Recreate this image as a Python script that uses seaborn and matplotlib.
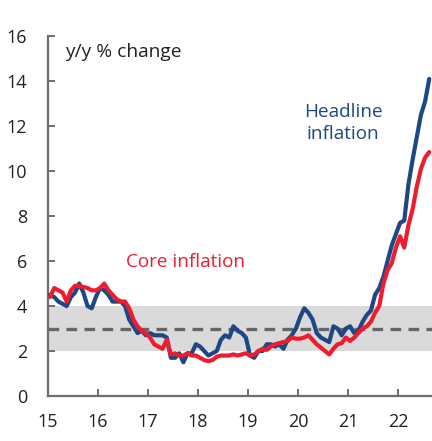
import numpy as np
import pandas as pd
import matplotlib
matplotlib.use("Agg")
import matplotlib.pyplot as plt
import seaborn as sns

# Monthly data, Jan 2015 - Aug 2022 (y/y % change)
years = list(range(2015, 2023))
headline = [
    4.5, 4.4, 4.2, 4.1, 4.0, 4.4, 4.6, 5.0, 4.6, 4.0, 3.9, 4.4,   # 2015
    4.8, 4.7, 4.5, 4.2, 4.2, 4.2, 4.0, 3.4, 3.1, 2.8, 2.9, 2.7,   # 2016
    2.8, 2.7, 2.7, 2.7, 2.6, 1.7, 1.7, 1.9, 1.5, 1.9, 1.9, 2.3,   # 2017
    2.2, 2.0, 1.8, 1.9, 2.0, 2.5, 2.7, 2.6, 3.1, 2.9, 2.8, 2.6,   # 2018
    1.8, 1.7, 2.0, 2.0, 2.3, 2.3, 2.2, 2.3, 2.1, 2.5, 2.7, 3.0,   # 2019
    3.5, 3.9, 3.7, 3.4, 2.8, 2.6, 2.5, 2.4, 3.1, 3.0, 2.7, 3.0,   # 2020
    3.1, 2.8, 2.9, 3.3, 3.6, 3.8, 4.5, 4.8, 5.3, 6.0, 6.7, 7.2,   # 2021
    7.7, 7.8, 9.4, 10.5, 11.5, 12.5, 13.1, 14.1,                  # 2022
]
core = [
    4.4, 4.8, 4.7, 4.6, 4.2, 4.7, 4.9, 4.9, 4.85, 4.8, 4.7, 4.7,  # 2015
    4.8, 5.0, 4.7, 4.5, 4.3, 4.2, 4.2, 3.9, 3.4, 3.1, 2.9, 2.8,   # 2016
    2.6, 2.3, 2.2, 2.1, 2.5, 1.85, 1.9, 1.8, 1.8, 1.9, 1.8, 1.8,  # 2017
    1.7, 1.6, 1.55, 1.6, 1.75, 1.8, 1.8, 1.8, 1.85, 1.8, 1.85, 1.9,  # 2018
    1.8, 1.85, 2.0, 2.1, 2.05, 2.2, 2.3, 2.35, 2.4, 2.45, 2.6, 2.55,  # 2019
    2.55, 2.6, 2.7, 2.5, 2.3, 2.15, 2.0, 1.85, 2.1, 2.3, 2.35, 2.6,   # 2020
    2.45, 2.6, 2.8, 3.0, 3.1, 3.3, 3.7, 4.0, 5.0, 5.6, 5.9, 6.6,      # 2021
    7.1, 6.6, 7.6, 8.3, 9.3, 10.1, 10.6, 10.85,                       # 2022
]
x_ticks = [15, 16, 17, 18, 19, 20, 21, 22]
y_ticks = [0, 2, 4, 6, 8, 10, 12, 14, 16]
band_low, band_high, target = 2, 4, 3

n = len(headline)
t = [15 + (i + 0.5) / 12 for i in range(n)]
df = pd.DataFrame({"t": t + t,
                   "value": headline + core,
                   "series": ["Headline inflation"] * n + ["Core inflation"] * n})

sns.set_theme(style="white")
plt.rcParams["font.family"] = ["Open Sans", "DejaVu Sans"]

BLUE = "#1d4883"
RED = "#ee1c2e"
SPINE = "#6e6e6e"

fig = plt.figure(figsize=(4.32, 4.41), dpi=100)
ax = fig.add_axes([0.111, 0.102, 0.889, 0.816])

ax.axhspan(band_low, band_high, color="#dadada", lw=0, zorder=0)
ax.axhline(target, color="#666666", lw=2.4, ls=(0, (3.2, 2.2)), zorder=1)

sns.lineplot(data=df, x="t", y="value", hue="series",
             palette={"Headline inflation": BLUE, "Core inflation": RED},
             hue_order=["Headline inflation", "Core inflation"],
             lw=3.0, legend=False, ax=ax, zorder=3)

ax.set_xlim(15, 22.68)
ax.set_ylim(0, 16)
ax.set_xticks(x_ticks)
ax.set_xticklabels([str(v) for v in x_ticks])
ax.set_yticks(y_ticks)
ax.set_yticklabels([str(v) for v in y_ticks])
ax.set_xlabel("")
ax.set_ylabel("")

for s in ["top", "right"]:
    ax.spines[s].set_visible(False)
for s in ["left", "bottom"]:
    ax.spines[s].set_color(SPINE)
    ax.spines[s].set_linewidth(1.6)

ax.tick_params(axis="both", which="major", direction="in", length=5, width=1.4,
               color=SPINE, labelsize=13, labelcolor="#222222",
               left=True, bottom=True)
ax.tick_params(axis="y", pad=15)
ax.tick_params(axis="x", pad=12)

ax.text(15.34, 15.3, "y/y % change", fontsize=13.8, color="#222222",
        ha="left", va="center")
ax.text(20.9, 12.15, "Headline\ninflation", fontsize=13.6, color=BLUE,
        ha="center", va="center", linespacing=1.3)
ax.text(17.76, 5.96, "Core inflation", fontsize=13.6, color=RED,
        ha="center", va="center")

fig.savefig("out.png", dpi=100)
